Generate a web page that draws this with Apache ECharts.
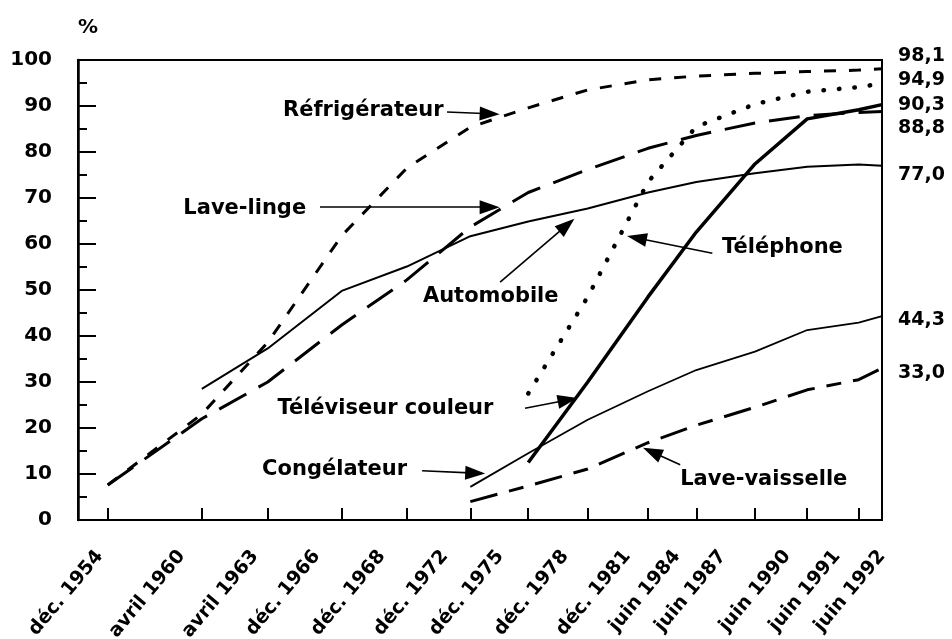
<!DOCTYPE html>
<html>
<head>
<meta charset="utf-8">
<script src="https://cdn.jsdelivr.net/npm/echarts@6.0.0/dist/echarts.min.js"></script>
<style>
  html, body { margin: 0; padding: 0; background: #fff; }
  #chart { width: 952px; height: 639px; }
</style>
</head>
<body>
<div id="chart"></div>
<script>
// dates des enquêtes
const categories = ['déc. 1954', 'avril 1960', 'avril 1963', 'déc. 1966', 'déc. 1968', 'déc. 1972', 'déc. 1975',
  'déc. 1978', 'déc. 1981', 'juin 1984', 'juin 1987', 'juin 1990', 'juin 1991', 'juin 1992'];
// place de chaque enquête sur l'axe horizontal (0 - 100), l'échelle du graphique n'est pas régulière
const surveyPos = [3.7, 15.4, 23.6, 32.8, 40.9, 48.8, 56.0, 63.4, 70.9, 76.9, 84.2, 90.7, 97.1, 100];
// les libellés de dates sont décalés à gauche des graduations (composés à la main sur l'original)
const labelPos = [2.7, 12.9, 22.0, 29.7, 37.8, 45.6, 52.5, 60.6, 68.3, 74.5, 80.2, 88.2, 94.4, 100];

const yTicks = [0, 10, 20, 30, 40, 50, 60, 70, 80, 90, 100];

// taux d'équipement des ménages (%)
const refrigerateur = [7.6, 23, 38.6, 61.8, 76.5, 85.4, 89.6, 93.5, 95.7, 96.5, 97.1, 97.5, 97.8, 98.1];
const televiseurCouleur = [null, null, null, null, null, null, 27.5, 48.5, 73.5, 85.5, 90.4, 93.1, 94.1, 94.9];
const telephone = [null, null, null, null, null, null, 12.5, 30, 48.5, 62.6, 77.4, 87.2, 89.2, 90.3];
const laveLinge = [7.6, 22, 30, 42.4, 52.2, 63.7, 71.2, 76.2, 80.8, 83.6, 86.3, 87.9, 88.6, 88.8];
const automobile = [null, 28.5, 37.3, 49.8, 55.1, 61.7, 64.9, 67.7, 71.2, 73.5, 75.4, 76.8, 77.3, 77.0];
const congelateur = [null, null, null, null, null, 7.2, 14.5, 21.8, 28, 32.6, 36.6, 41.3, 42.9, 44.3];
const laveVaisselle = [null, null, null, null, null, 4.0, 7.4, 11.1, 16.8, 20.6, 24.5, 28.3, 30.5, 33.0];

const FONT = 'DejaVu Sans';

// étiquettes et flèches du graphique, en coordonnées de l'axe
const notes = [
  { text: 'Réfrigérateur', at: [25.5, 89.1], from: [45.9, 88.7], to: [51.2, 88.3] },
  { text: 'Lave-linge', at: [13.1, 67.8], from: [30.1, 68.0], to: [51.2, 68.0] },
  { text: 'Automobile', at: [42.9, 48.5], from: [52.5, 51.7], to: [60.8, 64.1] },
  { text: 'Téléphone', at: [80.1, 59.3], from: [78.9, 58.0], to: [69.5, 61.3] },
  { text: 'Téléviseur couleur', at: [24.8, 24.3], from: [55.6, 24.3], to: [60.9, 26.1] },
  { text: 'Congélateur', at: [22.9, 10.9], from: [42.8, 10.7], to: [49.4, 10.2] },
  { text: 'Lave-vaisselle', at: [74.9, 8.7], from: [74.9, 12.0], to: [71.4, 14.8] }
];

function toPoints(values) {
  return values.map((v, i) => (v == null ? null : [surveyPos[i], v])).filter(p => p);
}

function catLabel(value) {
  const i = labelPos.findIndex(p => Math.abs(p - value) < 1e-6);
  return i < 0 ? '' : categories[i];
}

function lineSeries(name, values, style, dy) {
  return {
    name: name,
    type: 'line',
    data: toPoints(values),
    symbol: 'none',
    silent: true,
    lineStyle: Object.assign({ color: '#000' }, style),
    endLabel: {
      show: true,
      offset: [8, dy],
      color: '#000',
      fontFamily: FONT,
      fontWeight: 'bold',
      fontSize: 19,
      formatter: p => p.value[1].toFixed(1).replace('.', ',')
    }
  };
}

const chart = echarts.init(document.getElementById('chart'));

const autoSeries = lineSeries('Automobile', automobile, { width: 2 }, 9);
autoSeries.markLine = {
  silent: true,
  symbol: ['none', 'triangle'],
  symbolSize: [14, 20],
  label: { show: false },
  lineStyle: { color: '#000', type: 'solid', width: 1.6 },
  data: notes.map(n => [{ coord: n.from }, { coord: n.to }])
};
autoSeries.markPoint = {
  silent: true,
  symbol: 'circle',
  symbolSize: 0,
  label: {
    show: true,
    position: 'right',
    distance: 0,
    formatter: '{b}',
    color: '#000',
    fontFamily: FONT,
    fontWeight: 'bold',
    fontSize: 21
  },
  data: notes.map(n => ({ name: n.text, coord: n.at }))
};

const option = {
  animation: false,
  backgroundColor: '#fff',
  grid: {
    left: 78, right: 70, top: 60, bottom: 119,
    outerBoundsMode: 'none',
    show: true, borderColor: '#000', borderWidth: 2
  },
  xAxis: [
    {
      type: 'value',
      min: 0,
      max: 100,
      splitLine: { show: false },
      axisLine: { show: true, lineStyle: { color: '#000', width: 2 } },
      axisTick: {
        show: true, inside: true, length: 12, customValues: surveyPos,
        lineStyle: { color: '#000', width: 2 }
      },
      axisLabel: { show: false }
    },
    {
      // axe des libellés seulement
      type: 'value',
      position: 'bottom',
      min: 0,
      max: 100,
      splitLine: { show: false },
      axisLine: { show: false },
      axisTick: { show: false },
      axisLabel: {
        customValues: labelPos,
        rotate: 50,
        margin: 33,
        color: '#000',
        fontFamily: FONT,
        fontWeight: 'bold',
        fontSize: 19,
        formatter: catLabel
      }
    }
  ],
  yAxis: {
    type: 'value',
    min: yTicks[0],
    max: yTicks[yTicks.length - 1],
    interval: 10,
    name: '%',
    nameLocation: 'end',
    nameGap: 22,
    nameTextStyle: { color: '#000', fontFamily: FONT, fontWeight: 'bold', fontSize: 20, align: 'left' },
    splitLine: { show: false },
    axisLine: { show: true, lineStyle: { color: '#000', width: 2.5 } },
    axisTick: { show: true, inside: true, length: 18, lineStyle: { color: '#000', width: 2 } },
    minorTick: { show: true, splitNumber: 2, length: 9, lineStyle: { color: '#000', width: 2 } },
    axisLabel: {
      margin: 26,
      padding: [6, 0, 0, 0],
      color: '#000',
      fontFamily: FONT,
      fontWeight: 'bold',
      fontSize: 20
    }
  },
  series: [
    lineSeries('Réfrigérateur', refrigerateur, { width: 3, type: [12, 13] }, -13),
    lineSeries('Téléviseur couleur', televiseurCouleur, { width: 4.5, type: [0.5, 15], cap: 'round' }, -3.5),
    lineSeries('Téléphone', telephone, { width: 3.5 }, 0),
    lineSeries('Lave-linge', laveLinge, { width: 3, type: [31, 14] }, 16.5),
    autoSeries,
    lineSeries('Congélateur', congelateur, { width: 1.8 }, 4),
    lineSeries('Lave-vaisselle', laveVaisselle, { width: 3, type: [28, 12, 15, 12] }, 5)
  ]
};

chart.setOption(option);
window.addEventListener('resize', () => chart.resize());
</script>
</body>
</html>
